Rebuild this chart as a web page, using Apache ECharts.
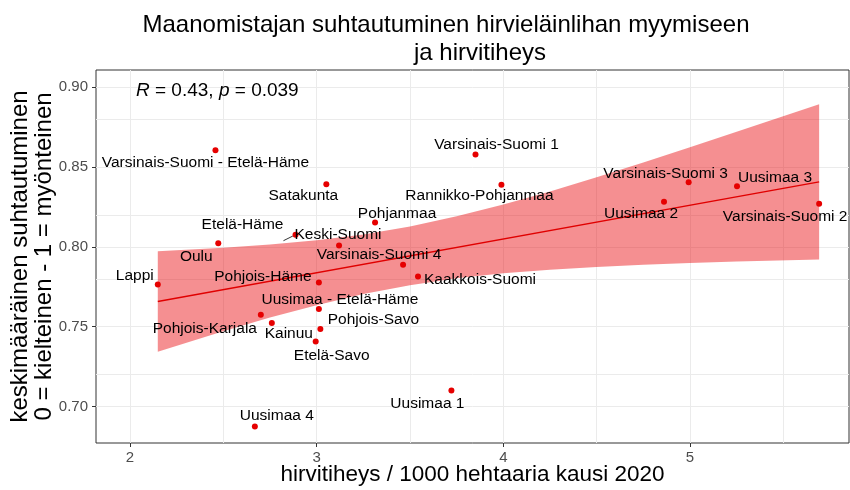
<!DOCTYPE html>
<html>
<head>
<meta charset="utf-8">
<script src="https://cdn.jsdelivr.net/npm/echarts@6/dist/echarts.min.js"></script>
<style>
  html, body { margin: 0; padding: 0; background: #fff; }
  #chart { width: 850px; height: 490px; }
</style>
</head>
<body>
<div id="chart"></div>
<script>
  // alueet ja arvot (luettu kuvasta)
  const regions = [
    'Varsinais-Suomi - Etelä-Häme', 'Satakunta', 'Etelä-Häme', 'Keski-Suomi', 'Oulu',
    'Lappi', 'Pohjois-Häme', 'Uusimaa - Etelä-Häme', 'Pohjois-Karjala', 'Kainuu',
    'Pohjois-Savo', 'Etelä-Savo', 'Uusimaa 4', 'Varsinais-Suomi 1', 'Rannikko-Pohjanmaa',
    'Pohjanmaa', 'Varsinais-Suomi 4', 'Kaakkois-Suomi', 'Uusimaa 1', 'Varsinais-Suomi 3',
    'Uusimaa 3', 'Uusimaa 2', 'Varsinais-Suomi 2'
  ]
  const hirvitiheys = [
    2.458, 3.052, 2.887, 3.120, 2.473,
    2.149, 3.012, 3.012, 2.701, 2.760,
    3.020, 2.995, 2.669, 3.851, 3.990,
    3.313, 3.463, 3.543, 3.722, 4.993,
    5.252, 4.861, 5.692
  ]
  const suhtautuminen = [
    0.8605, 0.8392, 0.8076, 0.8008, 0.8022,
    0.7765, 0.7776, 0.7611, 0.7575, 0.7523,
    0.7485, 0.7408, 0.6875, 0.8578, 0.8388,
    0.8152, 0.7888, 0.7815, 0.7100, 0.8404,
    0.8379, 0.8283, 0.8269
  ]

  // regressiosuora ja luottamusväli (luettu kuvasta)
  const fitX = [2.149, 5.692]
  const fitY = [0.7658, 0.8407]
  const bandX = [2.149, 2.5, 2.75, 3.0, 3.25, 3.5, 3.75, 4.0, 4.25, 4.5, 4.75, 5.0, 5.25, 5.692]
  const bandLo = [0.7343, 0.7472, 0.7557, 0.7635, 0.7704, 0.7760, 0.7803, 0.7835, 0.7857, 0.7874, 0.7888, 0.7899, 0.7908, 0.7921]
  const bandHi = [0.7973, 0.7994, 0.8014, 0.8041, 0.8078, 0.8128, 0.8191, 0.8265, 0.8347, 0.8436, 0.8528, 0.8623, 0.8720, 0.8893]

  // akselit
  const xTicks = [2, 3, 4, 5]
  const yTicks = [0.70, 0.75, 0.80, 0.85, 0.90]
  const xGrid = [2, 2.5, 3, 3.5, 4, 4.5, 5, 5.5]
  const yGrid = [0.70, 0.725, 0.75, 0.775, 0.80, 0.825, 0.85, 0.875, 0.90]

  const titleLine1 = 'Maanomistajan suhtautuminen hirvieläinlihan myymiseen'
  const titleLine2 = 'ja hirvitiheys'
  const xName = 'hirvitiheys / 1000 hehtaaria kausi 2020'
  const yName = 'keskimääräinen suhtautuminen\n0 = kielteinen - 1 = myönteinen'

  // tekstien siirrot pisteestä (px), kuten ggrepel ne asetti
  const labelOffset = {
    'Varsinais-Suomi - Etelä-Häme': [-10, 13],
    'Satakunta': [-23, 12],
    'Etelä-Häme': [-53, -10],
    'Keski-Suomi': [-1, -11],
    'Oulu': [-22, 13],
    'Lappi': [-23, -9],
    'Pohjois-Häme': [-56, -6],
    'Uusimaa - Etelä-Häme': [21, -9],
    'Pohjois-Karjala': [-56, 14],
    'Kainuu': [17, 11],
    'Pohjois-Savo': [53, -9],
    'Etelä-Savo': [16, 14],
    'Uusimaa 4': [22, -11],
    'Varsinais-Suomi 1': [21, -10],
    'Rannikko-Pohjanmaa': [-22, 11],
    'Pohjanmaa': [22, -9],
    'Varsinais-Suomi 4': [-24, -10],
    'Kaakkois-Suomi': [62, 3],
    'Uusimaa 1': [-24, 13],
    'Varsinais-Suomi 3': [-23, -9],
    'Uusimaa 3': [38, -9],
    'Uusimaa 2': [-23, 12],
    'Varsinais-Suomi 2': [-34, 13]
  }

  const font = '"Liberation Sans", Arial, sans-serif'
  const chart = echarts.init(document.getElementById('chart'))

  const points = regions.map((name, i) => {
    const item = {
      name: name,
      value: [hirvitiheys[i], suhtautuminen[i]],
      label: { offset: labelOffset[name] }
    }
    if (name === 'Etelä-Häme') {
      item.labelLine = { show: true, lineStyle: { color: '#000', width: 0.8 } }
    }
    return item
  })

  chart.setOption({
    animation: false,
    backgroundColor: '#fff',
    title: [
      {
        text: titleLine1, left: 441, top: 8, textAlign: 'center',
        textStyle: { fontSize: 24, fontWeight: 'normal', color: '#000', fontFamily: font }
      },
      {
        text: titleLine2, left: 475, top: 36, textAlign: 'center',
        textStyle: { fontSize: 24, fontWeight: 'normal', color: '#000', fontFamily: font }
      },
      {
        text: '{i|R} = 0.43, {i|p} = 0.039', left: 131, top: 76,
        textStyle: {
          fontSize: 19, fontWeight: 'normal', color: '#000', fontFamily: font,
          rich: { i: { fontStyle: 'italic', fontSize: 19, fontFamily: font, color: '#000' } }
        }
      }
    ],
    grid: {
      left: 96, right: 1, top: 70, bottom: 47,
      outerBoundsMode: 'none',
      containLabel: false,
      show: true, borderColor: '#333333', borderWidth: 1, backgroundColor: '#fff'
    },
    xAxis: {
      type: 'value',
      min: 1.818, max: 5.852,
      name: xName, nameLocation: 'middle', nameGap: 20, nameMoveOverlap: false,
      nameTextStyle: { fontSize: 22.5, color: '#000', fontFamily: font },
      axisLine: { show: false },
      splitLine: { show: false },
      axisTick: { show: true, length: 4, customValues: xTicks, lineStyle: { color: '#333333' } },
      axisLabel: {
        customValues: xTicks, margin: 7, fontSize: 15, color: '#4D4D4D', fontFamily: font,
        formatter: v => String(v)
      }
    },
    yAxis: {
      type: 'value',
      min: 0.6772, max: 0.9107,
      name: yName, nameLocation: 'middle', nameRotate: 90, nameGap: 40, nameMoveOverlap: false,
      nameTextStyle: { fontSize: 24, lineHeight: 24, color: '#000', fontFamily: font },
      axisLine: { show: false },
      splitLine: { show: false },
      axisTick: { show: true, length: 4, customValues: yTicks, lineStyle: { color: '#333333' } },
      axisLabel: {
        customValues: yTicks, margin: 8, fontSize: 15, color: '#4D4D4D', fontFamily: font,
        formatter: v => v.toFixed(2)
      }
    },
    series: [
      {
        // ruudukko
        type: 'line',
        data: [],
        z: 0,
        silent: true,
        markLine: {
          z: 0,
          silent: true,
          symbol: 'none',
          label: { show: false },
          animation: false,
          lineStyle: { color: '#EBEBEB', width: 1, type: 'solid' },
          data: xGrid.map(v => ({ xAxis: v })).concat(yGrid.map(v => ({ yAxis: v })))
        }
      },
      {
        // luottamusväli
        type: 'custom',
        z: 1,
        silent: true,
        data: bandX.map((x, i) => [x, bandLo[i], bandHi[i]]),
        encode: { x: 0, y: [1, 2] },
        renderItem: function (params, api) {
          if (params.dataIndex !== 0) return { type: 'group', children: [] }
          const upper = bandX.map((x, i) => api.coord([x, bandHi[i]]))
          const lower = bandX.map((x, i) => api.coord([x, bandLo[i]])).reverse()
          return {
            type: 'polygon',
            shape: { points: upper.concat(lower) },
            style: { fill: 'rgba(232,0,4,0.44)' }
          }
        }
      },
      {
        // regressiosuora
        type: 'line',
        z: 2,
        silent: true,
        showSymbol: false,
        data: fitX.map((x, i) => [x, fitY[i]]),
        lineStyle: { color: '#e00000', width: 1.4 }
      },
      {
        // pisteet
        type: 'scatter',
        z: 3,
        symbolSize: 6,
        itemStyle: { color: '#e60000', opacity: 1 },
        label: {
          show: true, position: 'inside', formatter: '{b}',
          color: '#000', fontSize: 15.5, fontFamily: font,
          textBorderWidth: 0, textBorderColor: 'transparent'
        },
        labelLine: { show: false },
        data: points
      }
    ]
  })
</script>
</body>
</html>
